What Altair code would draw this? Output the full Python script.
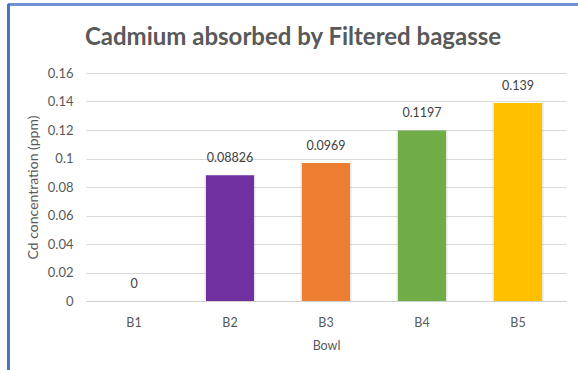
import altair as alt
import pandas as pd

# Cadmium uptake per bowl
bowls = ["B1", "B2", "B3", "B4", "B5"]
cd_ppm = [0, 0.08826, 0.0969, 0.1197, 0.139]
bar_colors = ["#A5A5A5", "#7030A0", "#ED7D31", "#70AD47", "#FFC000"]
y_ticks = [0, 0.02, 0.04, 0.06, 0.08, 0.1, 0.12, 0.14, 0.16]

df = pd.DataFrame({"Bowl": bowls, "Cd": cd_ppm})

FONT = "Lato"
TEXT_GREY = "#595959"

x_enc = alt.X(
    "Bowl:N",
    sort=bowls,
    scale=alt.Scale(paddingInner=0.5, paddingOuter=0.25),
    axis=alt.Axis(
        title="Bowl",
        labelAngle=0,
        ticks=False,
        domain=True,
        domainColor="#d0d0d0",
        domainWidth=1,
        labelPadding=15,
        labelFontSize=12.5,
        labelColor=TEXT_GREY,
        labelFont=FONT,
        titleFont=FONT,
        titleFontSize=12.5,
        titleFontWeight="normal",
        titleColor=TEXT_GREY,
        titleY=44,
        titleBaseline="middle",
    ),
)

y_enc = alt.Y(
    "Cd:Q",
    scale=alt.Scale(domain=[0, 0.16], nice=False),
    axis=alt.Axis(
        title="Cd concentration (ppm)",
        values=y_ticks,
        labelExpr="format(datum.value, '.2~f')",
        ticks=False,
        domain=False,
        grid=True,
        gridColor="#d9d9d9",
        gridWidth=1,
        labelPadding=13,
        labelFontSize=13,
        labelColor=TEXT_GREY,
        labelFont=FONT,
        titleFont=FONT,
        titleFontSize=14,
        titleFontWeight="normal",
        titleColor=TEXT_GREY,
        titleX=-53,
        titleY=114,
        titleAngle=270,
        titleAlign="center",
        titleBaseline="middle",
    ),
)

color_enc = alt.Color(
    "Bowl:N",
    sort=bowls,
    scale=alt.Scale(domain=bowls, range=bar_colors),
    legend=None,
)

base = alt.Chart(df)

# soft halo behind each bar
halo = base.mark_bar(size=51, color="#9a9a9a", opacity=0.25).encode(
    x=x_enc, y=y_enc
)

bars = base.mark_bar(size=48).encode(x=x_enc, y=y_enc, color=color_enc)

labels = base.mark_text(
    baseline="alphabetic",
    dy=-13,
    fontSize=12.5,
    font=FONT,
    color="#404040",
).encode(x=x_enc, y=y_enc, text=alt.Text("Cd:Q", format="~g"))

# frame lines along the top and left of the chart
frame_top = alt.Chart(df).mark_rule(color="#6d8fd6", strokeWidth=2).encode(
    x=alt.value(-78), x2=alt.value(500), y=alt.value(-68.5)
)
frame_left = alt.Chart(df).mark_rule(color="#4472C4", strokeWidth=2).encode(
    x=alt.value(-77.5), y=alt.value(-69), y2=alt.value(300)
)

chart = (
    alt.layer(halo, bars, labels, frame_top, frame_left)
    .properties(
        width=480,
        height=228,
        autosize=alt.AutoSizeParams(type="none"),
        padding={"left": 86, "top": 73, "right": 12, "bottom": 69},
        background="white",
        title=alt.TitleParams(
            "Cadmium absorbed by Filtered bagasse",
            font=FONT,
            fontSize=24,
            fontWeight="bold",
            color=TEXT_GREY,
            anchor="middle",
            dx=-33,
            baseline="alphabetic",
            offset=-66,
        ),
    )
    .configure_view(stroke=None)
)

chart.save("out.html", embed_options={"renderer": "svg", "actions": False})
